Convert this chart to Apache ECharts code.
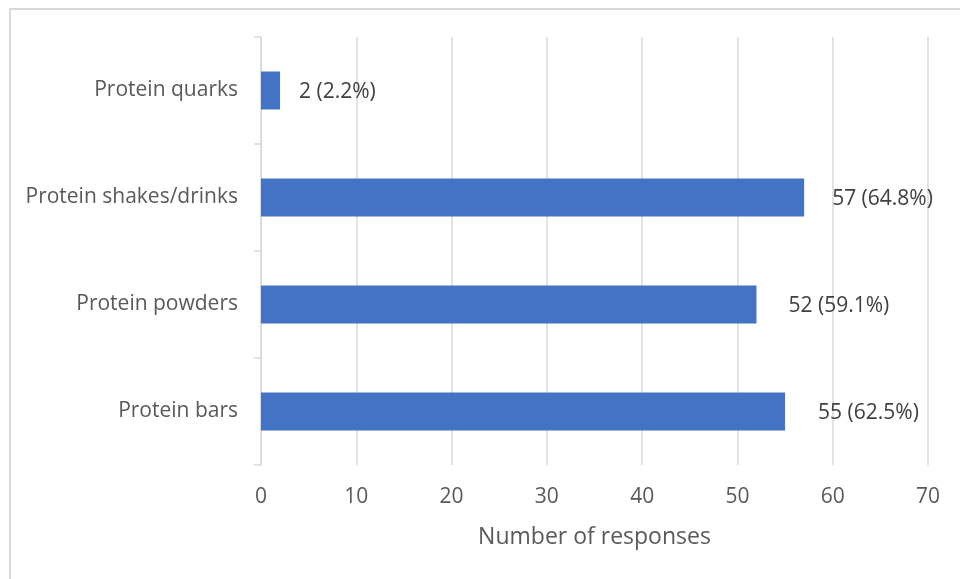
<!DOCTYPE html>
<html>
<head>
<meta charset="utf-8">
<script src="https://cdn.jsdelivr.net/npm/echarts@6/dist/echarts.min.js"></script>
<style>
  html, body { margin: 0; padding: 0; background: #fff; }
  #frame { position: absolute; left: 9px; top: 8px; width: 960px; height: 600px; border: 2px solid #d9d9d9; box-sizing: border-box; }
  #main { position: absolute; left: 0; top: 0; width: 960px; height: 579px; }
</style>
</head>
<body>
<div id="frame"></div>
<div id="main"></div>
<script>
// categories bottom -> top (ECharts category y axis starts at the bottom)
var categories = ['Protein bars', 'Protein powders', 'Protein shakes/drinks', 'Protein quarks'];
var counts = [55, 52, 57, 2];
var percents = ['62.5%', '59.1%', '64.8%', '2.2%'];
// gap between bar end and its label, as placed in the original
var labelGaps = [33, 32, 28, 19];

var font = 'Open Sans';

var chart = echarts.init(document.getElementById('main'), null, { renderer: 'canvas' });

chart.setOption({
    animation: false,
    grid: { left: 261, right: 32, top: 37, bottom: 114 },
    xAxis: {
        type: 'value',
        min: 0,
        max: 70,
        interval: 10,
        name: 'Number of responses',
        nameLocation: 'middle',
        nameGap: 61,
        nameTextStyle: { color: '#595959', fontSize: 23, fontFamily: font },
        axisLine: { show: false },
        axisTick: { show: false },
        axisLabel: { color: '#595959', fontSize: 21, fontFamily: font, margin: 22 },
        splitLine: { lineStyle: { color: '#d9d9d9', width: 1.5 } }
    },
    yAxis: {
        type: 'category',
        data: categories,
        axisLine: { lineStyle: { color: '#d9d9d9', width: 1.5 } },
        axisTick: { show: true, length: 7, lineStyle: { color: '#d9d9d9', width: 1.5 } },
        axisLabel: { color: '#595959', fontSize: 21, fontFamily: font, margin: 23, padding: [6, 0, 0, 0] }
    },
    series: [{
        type: 'bar',
        barWidth: 38,
        itemStyle: { color: '#4472c4' },
        data: counts.map(function (v, i) {
            return {
                value: v,
                label: {
                    show: true,
                    position: 'right',
                    distance: labelGaps[i],
                    offset: [0, 2],
                    color: '#404040',
                    fontSize: 21,
                    fontFamily: font,
                    formatter: v + ' (' + percents[i] + ')'
                }
            };
        })
    }]
});
</script>
</body>
</html>
